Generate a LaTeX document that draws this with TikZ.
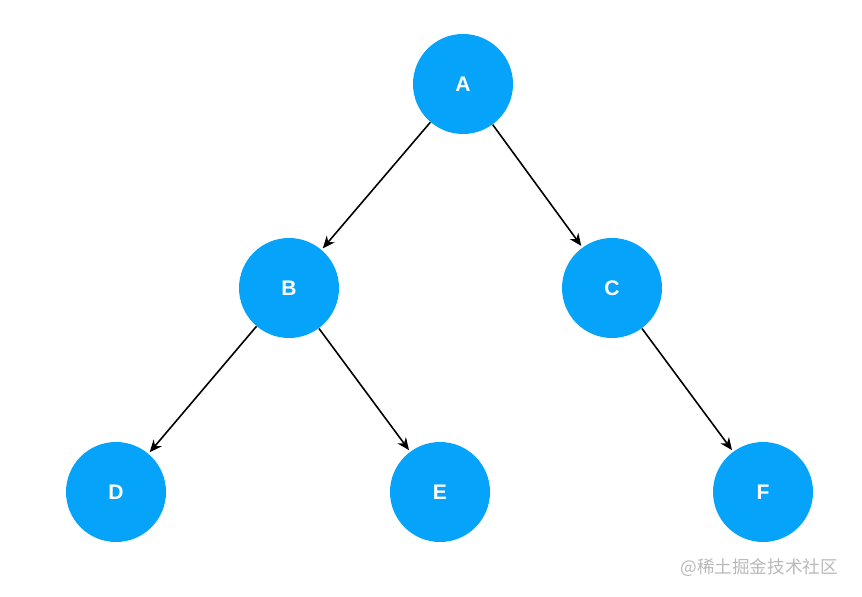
\documentclass[tikz,border=0pt]{standalone}
\usepackage{fontspec}
\setmainfont{Liberation Sans}
\newfontfamily\cjk{Noto Sans CJK SC}
\usetikzlibrary{arrows.meta}
\definecolor{treeblue}{RGB}{6,163,250}
\definecolor{markgray}{RGB}{185,185,185}
\begin{document}
\begin{tikzpicture}[
    treenode/.style={circle,fill=treeblue,minimum size=2cm,inner sep=0pt,
      text=white,font=\fontsize{12}{14}\selectfont\bfseries},
    edge/.style={line width=0.9pt,-{Stealth[length=7pt,width=6pt]},shorten >=1pt}]
  \useasboundingbox (0,0) rectangle (17.24,11.92);
  \node[treenode] (A) at (9.26,10.24) {A};
  \node[treenode] (B) at (5.78,6.16) {B};
  \node[treenode] (C) at (12.24,6.16) {C};
  \node[treenode] (D) at (2.32,2.08) {D};
  \node[treenode] (E) at (8.80,2.08) {E};
  \node[treenode] (F) at (15.26,2.08) {F};
  \draw[edge] (A) -- (B);
  \draw[edge] (A) -- (C);
  \draw[edge] (B) -- (D);
  \draw[edge] (B) -- (E);
  \draw[edge] (C) -- (F);
  \node[text=markgray,font=\cjk\fontsize{10}{12}\selectfont,anchor=east] (mark) at (16.88,0.56) {@稀土掘金技术社区};
\end{tikzpicture}
\end{document}
